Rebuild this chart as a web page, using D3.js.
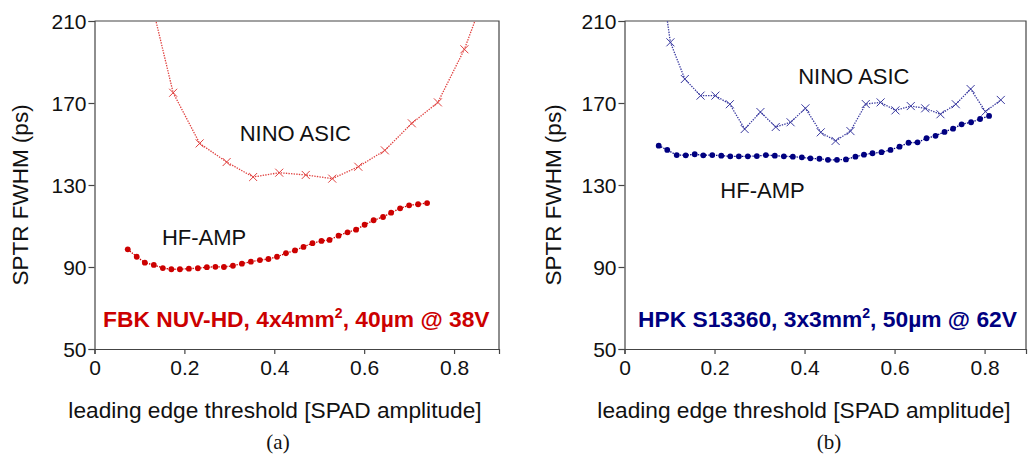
<!DOCTYPE html>
<html>
<head>
<meta charset="utf-8">
<script src="https://cdn.jsdelivr.net/npm/d3@7"></script>
<style>
  body { margin: 0; background: #fff; }
  text { font-family: "Liberation Sans", Arial, sans-serif; }
</style>
</head>
<body>
<script>
var width = 1029;
var height = 455;

// tick values
var yTicks = [50, 90, 130, 170, 210];
var xTicks = [0, 0.2, 0.4, 0.6, 0.8];
var xTickLabels = ["0", "0.2", "0.4", "0.6", "0.8"];

// (a) FBK NUV-HD
var fbkNinoX = [0.117, 0.175, 0.234, 0.294, 0.353, 0.411, 0.470, 0.529, 0.587, 0.646, 0.706, 0.764, 0.823, 0.882];
var fbkNinoY = [228, 175.0, 150.3, 141.2, 133.9, 136.0, 134.9, 133.1, 138.9, 146.9, 160.1, 170.3, 196.2, 231];
var fbkAmpX = [0.074, 0.094, 0.112, 0.132, 0.152, 0.171, 0.190, 0.210, 0.230, 0.250, 0.269, 0.288, 0.308, 0.328, 0.348, 0.368, 0.387, 0.406,
  0.426, 0.446, 0.465, 0.485, 0.505, 0.523, 0.543, 0.563, 0.582, 0.601, 0.621, 0.642, 0.660, 0.680, 0.700, 0.720, 0.740];
var fbkAmpY = [98.6, 95.0, 92.1, 91.0, 89.5, 88.9, 88.9, 89.2, 89.4, 89.9, 90.1, 90.0, 90.6, 91.6, 92.6, 93.4, 93.9, 95.0,
  96.7, 98.1, 99.8, 101.6, 102.7, 103.2, 105.3, 106.9, 108.2, 110.6, 112.8, 114.4, 116.5, 118.6, 120.1, 120.6, 121.2];

// (b) HPK S13360
var hpkNinoX = [0.069, 0.102, 0.134, 0.169, 0.202, 0.234, 0.267, 0.302, 0.336, 0.369, 0.402, 0.436, 0.469, 0.502, 0.536, 0.569,
  0.602, 0.636, 0.668, 0.702, 0.736, 0.769, 0.802, 0.836];
var hpkNinoY = [250, 199.6, 181.7, 173.6, 173.6, 169.4, 157.3, 165.6, 158.3, 160.6, 167.4, 155.7, 151.5, 156.3, 169.5, 170.3,
  166.4, 168.5, 167.4, 164.5, 169.4, 176.8, 165.8, 171.5];
var hpkAmpX = [0.076, 0.095, 0.116, 0.136, 0.156, 0.175, 0.195, 0.215, 0.235, 0.254, 0.274, 0.294, 0.314, 0.334, 0.354, 0.374, 0.394, 0.413,
  0.433, 0.452, 0.472, 0.492, 0.513, 0.532, 0.551, 0.571, 0.591, 0.611, 0.631, 0.651, 0.671, 0.691, 0.711, 0.730, 0.749, 0.770, 0.790, 0.810];
var hpkAmpY = [149.2, 147.1, 144.6, 144.5, 145.0, 144.5, 144.6, 144.3, 144.0, 144.0, 144.0, 144.1, 144.6, 144.3, 144.0, 143.8, 143.5, 143.0,
  142.8, 142.3, 142.3, 142.5, 143.8, 144.8, 145.5, 146.0, 147.1, 148.7, 150.6, 150.8, 152.8, 154.0, 155.9, 157.5, 159.6, 160.6, 162.2, 163.7];

var svg = d3.select("body").append("svg")
    .attr("width", width)
    .attr("height", height);

function zip(xs, ys) {
  return xs.map(function(d, i) { return {x: d, y: ys[i]}; });
}

function drawPanel(p) {
  var x = d3.scaleLinear().domain([0, p.xMax]).range([p.left, p.right]);
  var y = d3.scaleLinear().domain([50, 210]).range([349, 21]);
  var g = svg.append("g");

  g.append("clipPath").attr("id", p.id)
    .append("rect")
    .attr("x", p.left).attr("y", 21)
    .attr("width", p.right - p.left).attr("height", 328);

  // frame
  g.append("path")
    .attr("d", "M" + p.left + ",21H" + p.right + "V349")
    .attr("fill", "none")
    .attr("stroke", "#444")
    .attr("stroke-width", 1.2);

  var yAxis = d3.axisLeft(y).tickValues(yTicks).tickSize(6).tickPadding(2);
  var xAxis = d3.axisBottom(x).tickValues(xTicks).tickSize(5).tickPadding(6)
    .tickFormat(function(d, i) { return xTickLabels[i]; });

  var ya = g.append("g").attr("transform", "translate(" + p.left + ",0)").call(yAxis);
  var xa = g.append("g").attr("transform", "translate(0,349)").call(xAxis);
  [ya, xa].forEach(function(a) {
    a.select(".domain").attr("stroke", "#444").attr("stroke-width", 1.2);
    a.selectAll(".tick line").attr("stroke", "#444").attr("stroke-width", 1.2);
    a.selectAll(".tick text").attr("fill", "#111").style("font-size", "21px")
      .style("font-family", "'Liberation Sans', Arial, sans-serif");
  });
  ya.selectAll(".tick text").attr("dy", "0.36em");

  var plot = g.append("g").attr("clip-path", "url(#" + p.id + ")");
  var line = d3.line().x(function(d) { return x(d.x); }).y(function(d) { return y(d.y); });

  var nino = zip(p.ninoX, p.ninoY);
  var amp = zip(p.ampX, p.ampY);

  plot.append("path").datum(nino)
    .attr("d", line)
    .attr("fill", "none")
    .attr("stroke", p.light)
    .attr("stroke-width", 1.3)
    .attr("stroke-dasharray", "1.4,1.2");

  plot.selectAll(".cross").data(nino).enter().append("path")
    .attr("class", "cross")
    .attr("d", function(d) {
      var cx = x(d.x), cy = y(d.y), s = 4;
      return "M" + (cx - s) + "," + (cy - s) + "L" + (cx + s) + "," + (cy + s) +
             "M" + (cx - s) + "," + (cy + s) + "L" + (cx + s) + "," + (cy - s);
    })
    .attr("stroke", p.light)
    .attr("stroke-width", 1);

  plot.append("path").datum(amp)
    .attr("d", line)
    .attr("fill", "none")
    .attr("stroke", p.dark)
    .attr("stroke-width", 1.3)
    .attr("stroke-dasharray", "1.4,1.2");

  plot.selectAll(".dot").data(amp).enter().append("circle")
    .attr("class", "dot")
    .attr("cx", function(d) { return x(d.x); })
    .attr("cy", function(d) { return y(d.y); })
    .attr("r", 2.9)
    .attr("fill", p.dark);

  // annotations
  g.append("text").attr("x", x(p.ninoLab[0])).attr("y", y(p.ninoLab[1]))
    .style("font-size", "22px").attr("fill", "#111").text("NINO ASIC");
  g.append("text").attr("x", x(p.ampLab[0])).attr("y", y(p.ampLab[1]))
    .style("font-size", "22px").attr("fill", "#111").text("HF-AMP");

  var t = g.append("text").attr("x", p.titleX).attr("y", 327)
    .style("font-size", "22.8px").style("font-weight", "bold").attr("fill", p.dark);
  t.append("tspan").text(p.title[0]);
  t.append("tspan").attr("dy", -9).style("font-size", "14px").text("2");
  t.append("tspan").attr("dy", 9).text(p.title[1]);

  // axis titles
  g.append("text")
    .attr("x", p.xLabX).attr("y", 418)
    .attr("text-anchor", "middle")
    .style("font-size", "22.7px").attr("fill", "#111")
    .text("leading edge threshold [SPAD amplitude]");
  g.append("text")
    .attr("transform", "translate(" + p.yLabX + ",195) rotate(-90)")
    .attr("text-anchor", "middle")
    .style("font-size", "22.5px").attr("fill", "#111")
    .text("SPTR FWHM (ps)");

  g.append("text")
    .attr("x", p.capX).attr("y", 449)
    .attr("text-anchor", "middle")
    .style("font-family", "'Liberation Serif', 'Times New Roman', serif")
    .style("font-size", "21px").attr("fill", "#111")
    .text(p.caption);
}

drawPanel({
  id: "clipA", left: 94.5, right: 499, xMax: 0.9,
  ninoX: fbkNinoX, ninoY: fbkNinoY, ampX: fbkAmpX, ampY: fbkAmpY,
  light: "#e0413f", dark: "#cc0000",
  ninoLab: [0.323, 151.5], ampLab: [0.15, 100.8],
  title: ["FBK NUV-HD, 4x4mm", ", 40\u00b5m @ 38V"], titleX: 103,
  xLabX: 275, yLabX: 28, capX: 278, caption: "(a)"
});

drawPanel({
  id: "clipB", left: 624.5, right: 1026, xMax: 0.892,
  ninoX: hpkNinoX, ninoY: hpkNinoY, ampX: hpkAmpX, ampY: hpkAmpY,
  light: "#3a3aa0", dark: "#000080",
  ninoLab: [0.386, 179.2], ampLab: [0.213, 123.8],
  title: ["HPK S13360, 3x3mm", ", 50\u00b5m @ 62V"], titleX: 638,
  xLabX: 804, yLabX: 561, capX: 829, caption: "(b)"
});
</script>
</body>
</html>
